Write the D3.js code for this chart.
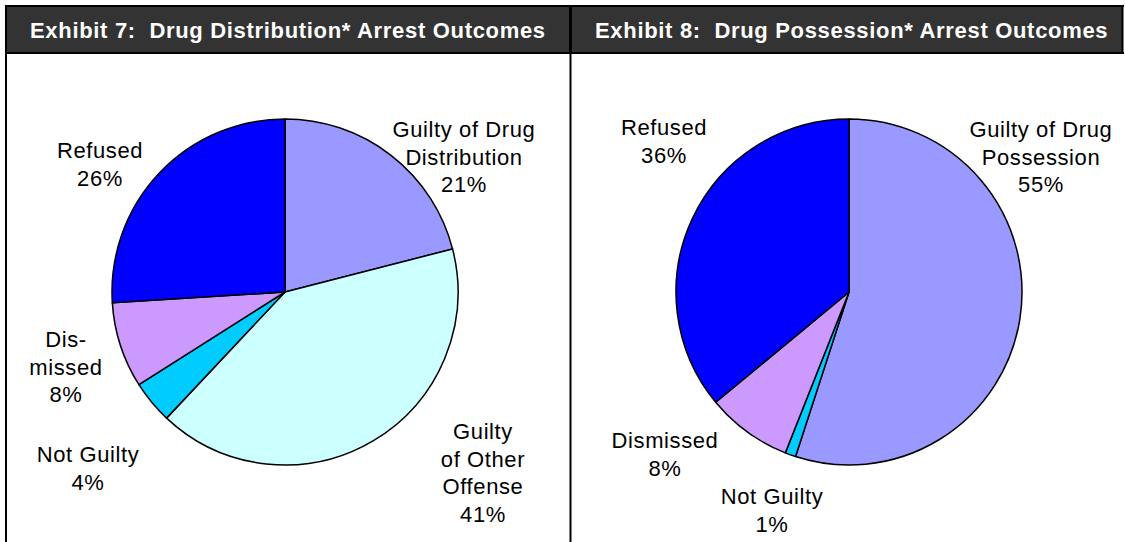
<html>
<head>
  <meta charset="UTF-8">
  <title>Drug Arrest Outcomes</title>
  <script src="https://d3js.org/d3.v7.min.js"></script>
  <style>
    body { margin: 0; background: white; }
    svg { display: block; font-family: "Liberation Sans", Arial, sans-serif; }
  </style>
</head>
<body>

    <svg id="chart" width="1125" height="542"></svg>

    <script>

        // Exhibit 7: drug distribution arrests
        const distTitle = "Exhibit 7:  Drug Distribution* Arrest Outcomes";
        const distCategories = [["Guilty of Drug", "Distribution"], ["Guilty", "of Other", "Offense"], ["Not Guilty"], ["Dis-", "missed"], ["Refused"]];
        const distValues = [21, 41, 4, 8, 26];
        const distColors = ["#9999FF", "#CCFFFF", "#00CCFF", "#CC99FF", "#0000FF"];

        // Exhibit 8: drug possession arrests
        const possTitle = "Exhibit 8:  Drug Possession* Arrest Outcomes";
        const possCategories = [["Guilty of Drug", "Possession"], ["Not Guilty"], ["Dismissed"], ["Refused"]];
        const possValues = [55, 1, 8, 36];
        const possColors = ["#9999FF", "#00CCFF", "#CC99FF", "#0000FF"];

        // where the labels sit (center x, first baseline y), in page coords
        const distLabelPos = [[464, 137], [483, 439], [88, 462], [66, 347], [100, 158]];
        const possLabelPos = [[1041, 137], [772, 504], [665, 448], [664, 135]];

        const svg = d3.select("#chart");
        const headerTop = 6, headerBottom = 53;
        const lineHeight = 27.5;

        const panels = [
            { x0: 6, x1: 570, cx: 285, cy: 292, r: 173,
              title: distTitle, cats: distCategories, vals: distValues, cols: distColors, pos: distLabelPos },
            { x0: 571, x1: 1122, cx: 849, cy: 292, r: 173,
              title: possTitle, cats: possCategories, vals: possValues, cols: possColors, pos: possLabelPos }
        ];

        const pie = d3.pie().sort(null).value(d => d);

        panels.forEach(p => {
            // header bar
            svg.append("rect")
                .attr("x", p.x0).attr("y", headerTop)
                .attr("width", p.x1 - p.x0).attr("height", headerBottom - headerTop)
                .attr("fill", "#333333");
            svg.append("text")
                .attr("x", p.x0 + 24).attr("y", 38)
                .attr("fill", "white")
                .attr("font-weight", "bold")
                .attr("font-size", "22px")
                .attr("letter-spacing", "0.68px")
                .style("white-space", "pre")
                .text(p.title);

            const arc = d3.arc().innerRadius(0).outerRadius(p.r);
            const g = svg.append("g").attr("transform", "translate(" + p.cx + "," + p.cy + ")");
            const total = d3.sum(p.vals);

            g.selectAll("path.slice").data(pie(p.vals))
                .join("path")
                .attr("class", "slice")
                .attr("d", arc)
                .attr("fill", (d, i) => p.cols[i])
                .attr("stroke", "black")
                .attr("stroke-width", 1.5)
                .attr("stroke-linejoin", "round");

            // labels
            p.cats.forEach((lines, i) => {
                const all = lines.concat([Math.round(p.vals[i] / total * 100) + "%"]);
                const t = svg.append("text")
                    .attr("text-anchor", "middle")
                    .attr("font-size", "22px")
                    .attr("letter-spacing", "0.6px")
                    .attr("fill", "black");
                all.forEach((s, k) => {
                    t.append("tspan")
                        .attr("x", p.pos[i][0])
                        .attr("y", p.pos[i][1] + k * lineHeight)
                        .text(s);
                });
            });
        });

        // frame lines
        const frame = [
            [5, 6, 1124, 6, 2],          // top
            [5, 53, 1124, 53, 2],        // under header
            [6, 5, 6, 542, 2],           // left side
            [570.5, 5, 570.5, 54, 3],    // divider in header
            [570.5, 54, 570.5, 542, 2],  // divider below
            [1122.5, 5, 1122.5, 54, 2]   // right side of header
        ];
        svg.selectAll("line.frame").data(frame)
            .join("line")
            .attr("class", "frame")
            .attr("x1", d => d[0]).attr("y1", d => d[1])
            .attr("x2", d => d[2]).attr("y2", d => d[3])
            .attr("stroke", "black")
            .attr("stroke-width", d => d[4]);

    </script>

</body>
</html>
